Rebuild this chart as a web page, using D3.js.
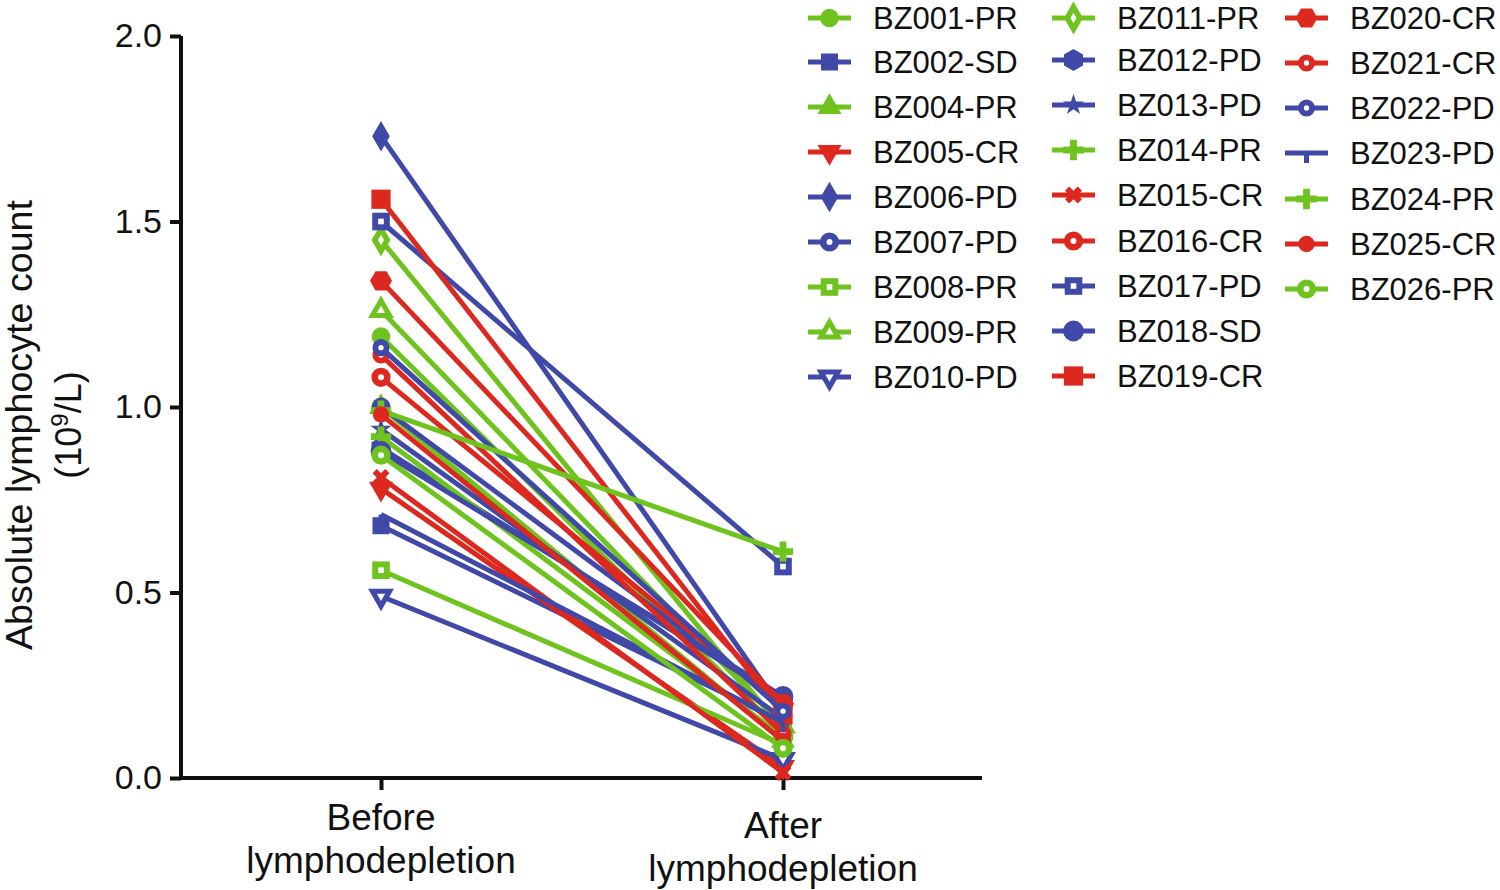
<!DOCTYPE html>
<html>
<head>
<meta charset="utf-8">
<script src="https://cdn.jsdelivr.net/npm/d3@7"></script>
<style>
  html, body { margin: 0; padding: 0; background: #fff; }
  svg { display: block; }
  text { font-family: "Liberation Sans", Arial, Helvetica, sans-serif; fill: #111; }
</style>
</head>
<body>
<svg id="chart" width="1500" height="890"></svg>
<script>
// ---------------- data ----------------
const categories = ["Before lymphodepletion", "After lymphodepletion"];
const patients = ["BZ001-PR","BZ002-SD","BZ004-PR","BZ005-CR","BZ006-PD","BZ007-PD","BZ008-PR","BZ009-PR","BZ010-PD",
                  "BZ011-PR","BZ012-PD","BZ013-PD","BZ014-PR","BZ015-CR","BZ016-CR","BZ017-PD","BZ018-SD","BZ019-CR",
                  "BZ020-CR","BZ021-CR","BZ022-PD","BZ023-PD","BZ024-PR","BZ025-CR","BZ026-PR"];
const beforeValues = [1.19, 0.68, 1.00, 0.78, 1.73, 1.00, 0.56, 1.26, 0.49,
                      1.45, 0.89, 0.94, 0.92, 0.81, 1.08, 1.50, 0.88, 1.56,
                      1.34, 1.14, 1.16, 0.71, 0.99, 0.98, 0.87];
const afterValues  = [0.12, 0.15, 0.10, 0.03, 0.18, 0.20, 0.09, 0.14, 0.05,
                      0.13, 0.21, 0.16, 0.11, 0.015, 0.19, 0.57, 0.22, 0.17,
                      0.20, 0.12, 0.18, 0.15, 0.61, 0.10, 0.08];
const yTicks = [0.0, 0.5, 1.0, 1.5, 2.0];

// ---------------- styles ----------------
const responseColors = { PR: "#6ec31e", SD: "#4048a8", PD: "#4048a8", CR: "#dc281e" };
// marker shape for each patient (same order as patients)
const markerShapes = ["circle","square","triangle","triangleDown","diamond","circleOpen","squareOpen","triangleOpen","triangleDownOpen",
                      "diamondOpen","hexDown","star","plus","xcross","circleOpen","squareOpen","circleBig","squareBig",
                      "hexagon","circleOpenSmall","circleOpenSmall","tickDown","plus","circleSmall","circleOpen"];

const svg = d3.select("#chart");
const plot = { left: 181, right: 982, top: 36, bottom: 778 };

const y = d3.scaleLinear().domain([0, 2]).range([plot.bottom, plot.top]);
const x = d3.scalePoint().domain(categories).range([381, 783]);

// ---------------- symbol helper ----------------
function shapePath(shape) {
  const S = d3.symbol();
  switch (shape) {
    case "circle": return [{d: S.type(d3.symbolCircle).size(270)()}];
    case "circleBig": return [{d: S.type(d3.symbolCircle).size(340)()}];
    case "circleSmall": return [{d: S.type(d3.symbolCircle).size(210)()}];
    case "square": return [{d: S.type(d3.symbolSquare).size(290)()}];
    case "squareBig": return [{d: S.type(d3.symbolSquare).size(370)()}];
    case "triangle": return [{d: S.type(d3.symbolTriangle).size(250)()}];
    case "triangleDown": return [{d: S.type(d3.symbolTriangle).size(250)(), rot: 180}];
    case "diamond": return [{d: S.type(d3.symbolDiamond).size(270)()}];
    case "star": return [{d: S.type(d3.symbolStar).size(140)()}];
    case "plus": return [{d: S.type(d3.symbolCross).size(230)()}];
    case "xcross": return [{d: S.type(d3.symbolCross).size(180)(), rot: 45}];
    case "hexagon": case "hexDown": {
      const r = 11, pts = [];
      for (let i = 0; i < 6; i++) { const a = Math.PI / 6 + i * Math.PI / 3; pts.push([r * Math.cos(a), r * Math.sin(a)]); }
      const d = "M" + pts.map(p => p.join(",")).join("L") + "Z";
      return [{d: d, rot: shape === "hexDown" ? 0 : 30}];
    }
    case "tickDown": return [{d: "M-2.5,0L2.5,0L2.5,10L-2.5,10Z"}];
    case "circleOpen": return [{d: S.type(d3.symbolCircle).size(290)()}, {d: S.type(d3.symbolCircle).size(28)(), white: true}];
    case "circleOpenSmall": return [{d: S.type(d3.symbolCircle).size(230)()}, {d: S.type(d3.symbolCircle).size(22)(), white: true}];
    case "squareOpen": return [{d: S.type(d3.symbolSquare).size(310)()}, {d: S.type(d3.symbolSquare).size(32)(), white: true}];
    case "triangleOpen": return [{d: S.type(d3.symbolTriangle).size(290)()}, {d: S.type(d3.symbolTriangle).size(30)(), white: true}];
    case "triangleDownOpen": return [{d: S.type(d3.symbolTriangle).size(290)(), rot: 180}, {d: S.type(d3.symbolTriangle).size(30)(), white: true, rot: 180}];
    case "diamondOpen": return [{d: S.type(d3.symbolDiamond).size(310)()}, {d: S.type(d3.symbolDiamond).size(32)(), white: true}];
  }
  return [{d: S.type(d3.symbolCircle).size(200)()}];
}

function drawMarker(g, cx, cy, shape, color) {
  shapePath(shape).forEach(p => {
    g.append("path")
      .attr("d", p.d)
      .attr("transform", `translate(${cx},${cy})` + (p.rot ? ` rotate(${p.rot})` : ""))
      .attr("fill", p.white ? "#fff" : color)
      .attr("stroke", "none");
  });
}

// ---------------- axes ----------------
const axisG = svg.append("g");
const yAxis = d3.axisLeft(y).tickValues(yTicks).tickFormat(d3.format(".1f")).tickSize(11).tickPadding(8);
const yg = axisG.append("g").attr("transform", `translate(${plot.left},0)`).call(yAxis);
yg.select(".domain").attr("stroke", "#111").attr("stroke-width", 4).attr("d", `M0,${plot.top}V${plot.bottom}`);
yg.selectAll(".tick line").attr("stroke", "#111").attr("stroke-width", 4);
yg.selectAll(".tick text").style("font-size", "34px").attr("fill", "#111").attr("font-family", "Liberation Sans, Arial, sans-serif");

const xAxis = d3.axisBottom(x).tickSize(12).tickFormat("");
const xg = axisG.append("g").attr("transform", `translate(0,${plot.bottom})`).call(xAxis);
xg.select(".domain").attr("stroke", "#111").attr("stroke-width", 4).attr("d", `M${plot.left - 2},0H${plot.right}`);
xg.selectAll(".tick line").attr("stroke", "#111").attr("stroke-width", 4);

// category labels (two lines)
const catOffsets = [0, 8];
categories.forEach((c, i) => {
  const parts = c.split(" ");
  const t = svg.append("text")
    .attr("x", x(c)).attr("y", 830 + catOffsets[i])
    .attr("text-anchor", "middle").style("font-size", "37px");
  t.append("tspan").attr("x", x(c)).attr("dy", 0).text(parts[0]);
  t.append("tspan").attr("x", x(c)).attr("dy", 43).text(parts[1]);
});

// y axis title
svg.append("text")
  .attr("transform", "translate(32,425) rotate(-90)")
  .attr("text-anchor", "middle").style("font-size", "36px")
  .attr("textLength", 450).attr("lengthAdjust", "spacingAndGlyphs")
  .text("Absolute lymphocyte count");
const yt2 = svg.append("text")
  .attr("transform", "translate(81,425) rotate(-90)")
  .attr("text-anchor", "middle").style("font-size", "36px");
yt2.append("tspan").text("(10");
yt2.append("tspan").attr("dy", -13).style("font-size", "24px").text("9");
yt2.append("tspan").attr("dy", 13).text("/L)");

// ---------------- series ----------------
const series = patients.map((p, i) => ({
  name: p,
  color: responseColors[p.split("-")[1]],
  shape: markerShapes[i],
  values: [beforeValues[i], afterValues[i]]
}));

const line = d3.line().x((d, i) => x(categories[i])).y(d => y(d));
const seriesG = svg.append("g");
series.forEach(s => {
  const g = seriesG.append("g");
  g.append("path").attr("d", line(s.values)).attr("fill", "none")
    .attr("stroke", s.color).attr("stroke-width", 5).attr("stroke-linejoin", "round");
  s.values.forEach((v, i) => drawMarker(g, x(categories[i]), y(v), s.shape, s.color));
});

// ---------------- legend ----------------
const legendCols = [
  { lx: 808, tx: 873, ys: [18, 62, 107, 152, 197, 242, 287, 332, 377] },
  { lx: 1052, tx: 1117, ys: [18, 60, 105, 150, 195, 241, 286, 331, 376] },
  { lx: 1285, tx: 1350, ys: [18, 63, 108, 153, 199, 244, 289] }
];
const legendG = svg.append("g");
let k = 0;
legendCols.forEach(col => {
  col.ys.forEach(ly => {
    const s = series[k++];
    if (!s) return;
    const g = legendG.append("g");
    g.append("line").attr("x1", col.lx).attr("x2", col.lx + 43).attr("y1", ly).attr("y2", ly)
      .attr("stroke", s.color).attr("stroke-width", 5);
    drawMarker(g, col.lx + 21.5, ly, s.shape, s.color);
    g.append("text").attr("x", col.tx).attr("y", ly).attr("dy", "0.36em")
      .style("font-size", "31px").text(s.name);
  });
});
</script>
</body>
</html>
